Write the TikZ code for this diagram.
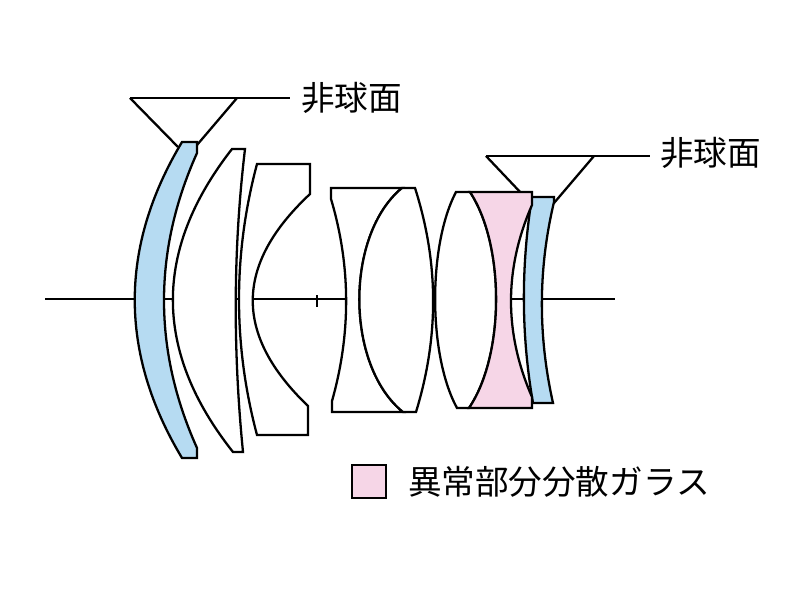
\documentclass[tikz,border=0pt]{standalone}
\usepackage{fontspec}
\newfontfamily\jpfont{Noto Sans CJK JP}
\definecolor{lensblue}{HTML}{B6DBF2}
\definecolor{lenspink}{HTML}{F6D6E7}

\begin{document}
\begin{tikzpicture}[
  x=0.01cm,
  y=-0.01cm,
  lens/.style={
    draw=black,
    fill=white,
    line width=0.65pt
  },
  leader/.style={
    draw=black,
    line width=0.65pt
  },
  jplabel/.style={
    font=\jpfont\fontsize{9.55pt}{11pt}\selectfont,
    inner sep=0pt,
    outer sep=0pt
  }
]
\useasboundingbox (0,0) rectangle (800,600);
\node[jplabel,anchor=west] (aspherel) at (301,98) {非球面};
\node[jplabel,anchor=west] (aspherer) at (660,153) {非球面};
\node[jplabel,anchor=west] (legendtext) at (408,482) {異常部分分散ガラス};
\draw[lens,fill=lenspink] (352,465) rectangle (386,498);
% axis
\draw[leader] (45,299) -- (615,299);
\draw[leader] (317,295) -- (317,307);
% leaders
\coordinate (lefttip) at (130,98);
\coordinate (righttip) at (486,156);
\draw[leader] (lefttip) -- (290,98);
\draw[leader] (lefttip) -- (178,147);
\draw[leader] (237,98) -- (197,145);
\draw[leader] (righttip) -- (650,156);
\draw[leader] (righttip) -- (522,194);
\draw[leader] (594,156) -- (554,203);
% front group
\draw[lens,fill=lensblue] (182,142) -- (197,142) -- (197,153) .. controls (153,251) and (153,350) .. (197,448) -- (197,458) -- (182,458) .. controls (119,353) and (119,247) .. (182,142) -- cycle;
\draw[lens] (232,149) -- (245,149) .. controls (233,250) and (233,351) .. (243,452) -- (233,452) .. controls (153,351) and (153,250) .. (232,149) -- cycle;
\draw[lens] (257,164) -- (310,164) -- (310,194) .. controls (234,265) and (234,335) .. (308,406) -- (308,435) -- (257,435) .. controls (233,345) and (233,254) .. (257,164) -- cycle;
% doublet
\draw[lens] (331,188) -- (402,188) .. controls (345,235) and (345,365) .. (403,412) -- (332,412) -- (332,401) .. controls (351,334) and (351,266) .. (331,199) -- cycle;
\draw[lens] (402,188) -- (415,188) .. controls (439,263) and (439,337) .. (416,412) -- (403,412) .. controls (345,365) and (345,235) .. (402,188) -- cycle;
% rear group
\draw[lens,fill=lensblue] (532,197) -- (554,197) -- (554,202) .. controls (538,269) and (538,336) .. (553,403) -- (533,403) .. controls (521,334) and (521,266) .. (532,197) -- cycle;
\draw[lens] (456,192) -- (470,192) .. controls (505,245) and (505,355) .. (469,408) -- (457,408) .. controls (428,355) and (428,245) .. (456,192) -- cycle;
\draw[lens,fill=lenspink] (470,192) -- (532,192) -- (532,205) .. controls (504,269) and (504,333) .. (532,397) -- (532,408) -- (469,408) .. controls (505,355) and (505,245) .. (470,192) -- cycle;
\end{tikzpicture}
\end{document}
